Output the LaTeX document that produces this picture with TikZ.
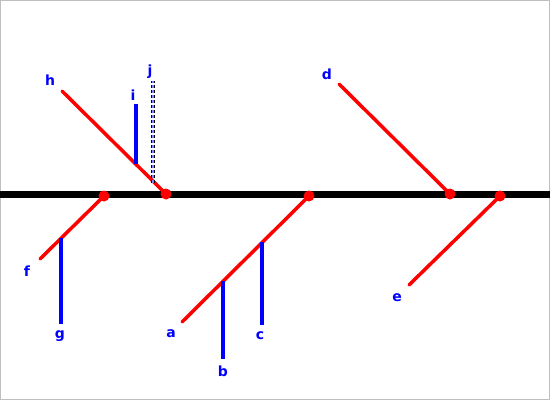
\documentclass[tikz,border=0pt]{standalone}
\usepackage{fontspec}
\setmainfont{DejaVu Sans}
\begin{document}
\begin{tikzpicture}[x = 1pt, y = -1pt,
	bone/.style = {red, line width = 3.5pt, line cap = round},
	rib/.style = {blue, line width = 3.5pt},
	ribsel/.style = {draw = black, densely dashed, line width = .8pt, double = blue!50, double distance = 2.2pt},
	joint/.style = {circle, fill = red, inner sep = 0pt, minimum size = 11pt},
	lbl/.style = {text = blue, font = \bfseries\fontsize{14}{16}\selectfont, inner sep = 0pt}]
	\useasboundingbox (0,0) rectangle (550,400);
	\draw[black!25, fill = white] (.5,.5) rectangle (549.5,399.5); %frame
	% spine
	\coordinate (west) at (0,194);
	\coordinate (east) at (550,194);
	\draw[line width = 7pt] (west)--(east);
	% free ends
	\coordinate (hend) at (62,91);
	\coordinate (fend) at (40,259);
	\coordinate (aend) at (182,322);
	\coordinate (dend) at (339,84);
	\coordinate (eend) at (409,285);
	\coordinate (itop) at (136,104);
	\coordinate (ifoot) at (136,164);
	\coordinate (jtop) at (153,81);
	\coordinate (jfoot) at (153,183);
	\coordinate (gtop) at (61,238);
	\coordinate (gend) at (61,324);
	\coordinate (btop) at (223,281);
	\coordinate (bend) at (223,359);
	\coordinate (ctop) at (262,242);
	\coordinate (cend) at (262,325);
	% joints on the spine
	\coordinate (f0) at (104,196);
	\coordinate (h0) at (166,194);
	\coordinate (a0) at (309,196);
	\coordinate (d0) at (450,194);
	\coordinate (e0) at (500,196);
	% bones
	\draw[bone] (hend)--(h0);
	\draw[bone] (fend)--(f0);
	\draw[bone] (aend)--(a0);
	\draw[bone] (dend)--(d0);
	\draw[bone] (eend)--(e0);
	% ribs
	\draw[rib] (ifoot)--(itop);
	\draw[rib] (gtop)--(gend);
	\draw[rib] (btop)--(bend);
	\draw[rib] (ctop)--(cend);
	\draw[ribsel] (jfoot)--(jtop);
	\foreach \j in {f0,h0,a0,d0,e0}
		\node[joint] at (\j) {};
	% labels
	\node[lbl] (a) at (171,334) {a};
	\node[lbl] (b) at (223,371) {b};
	\node[lbl] (c) at (260,336) {c};
	\node[lbl] (d) at (327,74) {d};
	\node[lbl] (e) at (397,298) {e};
	\node[lbl] (f) at (27,271) {f};
	\node[lbl] (g) at (60,336) {g};
	\node[lbl] (h) at (50,80) {h};
	\node[lbl] (i) at (133,95) {i};
	\node[lbl] (j) at (150,72) {j};
\end{tikzpicture}
\end{document}
